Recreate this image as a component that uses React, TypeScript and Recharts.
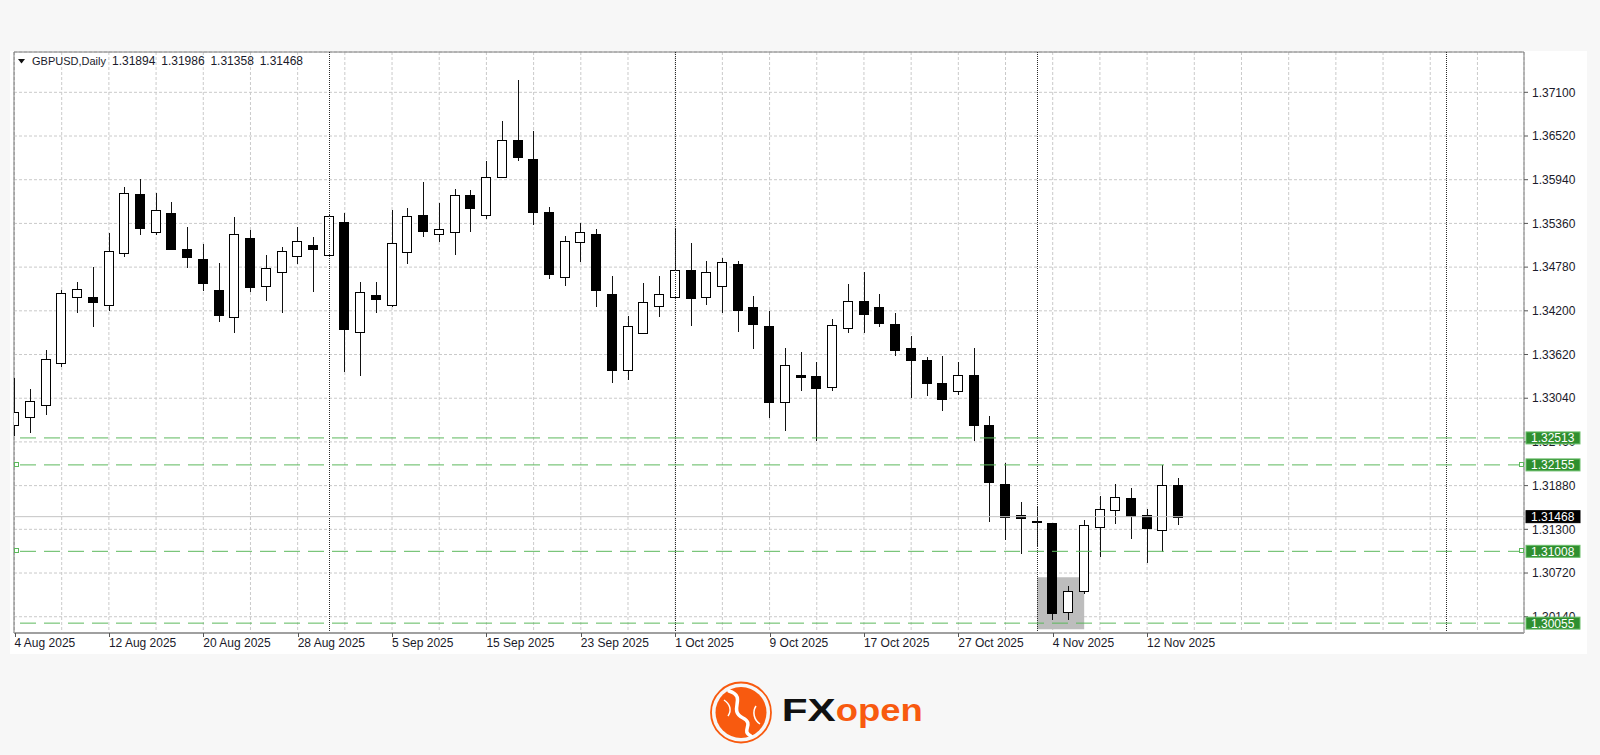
import React from "react";
import {
  ComposedChart,
  Bar,
  XAxis,
  YAxis,
  CartesianGrid,
  ReferenceLine,
  ReferenceArea,
} from "recharts";

// GBPUSD daily, 4 Aug 2025 .. 14 Nov 2025 (one entry per trading day)
const opens = [
  1.32684, 1.32794, 1.32946, 1.33511, 1.34387, 1.34379, 1.34281, 1.34963, 1.3575, 1.3525,
  1.35502, 1.35016, 1.34883, 1.3448, 1.34122, 1.35162, 1.34529, 1.34715, 1.34931, 1.35069,
  1.34936, 1.35382, 1.33918, 1.34414, 1.34281, 1.3498, 1.35471, 1.35219, 1.35242, 1.35741,
  1.35471, 1.35976, 1.36467, 1.36219, 1.35515, 1.34648, 1.35109, 1.35219, 1.34427, 1.33418,
  1.33901, 1.34268, 1.34387, 1.34741, 1.34379, 1.34529, 1.34817, 1.34254, 1.33998, 1.32989,
  1.33348, 1.33334, 1.33192, 1.33968, 1.34334, 1.34246, 1.34021, 1.33702, 1.33547, 1.33238,
  1.33131, 1.33348, 1.32684, 1.31897, 1.3149, 1.3141, 1.31379, 1.30206, 1.30485, 1.31334,
  1.31556, 1.31711, 1.31486, 1.31286, 1.31894,
];
const highs = [
  1.33304, 1.33158, 1.3368, 1.34476, 1.34582, 1.34777, 1.35236, 1.35847, 1.35945, 1.35759,
  1.35644, 1.35316, 1.35087, 1.3483, 1.35449, 1.35272, 1.3494, 1.35047, 1.35308, 1.35175,
  1.35485, 1.35494, 1.34578, 1.34586, 1.35538, 1.3556, 1.35905, 1.35635, 1.35816, 1.35799,
  1.36192, 1.36723, 1.37263, 1.3659, 1.35582, 1.35193, 1.35361, 1.35282, 1.34662, 1.34135,
  1.34569, 1.34662, 1.35295, 1.35096, 1.34865, 1.34901, 1.34865, 1.34392, 1.34197, 1.33702,
  1.33649, 1.33524, 1.34087, 1.34552, 1.34715, 1.34427, 1.34167, 1.33869, 1.33591, 1.336,
  1.33524, 1.33702, 1.32804, 1.32184, 1.31658, 1.31613, 1.31387, 1.30547, 1.31423, 1.31742,
  1.31901, 1.31844, 1.31565, 1.32153, 1.31986,
];
const lows = [
  1.32538, 1.32582, 1.32813, 1.3345, 1.34175, 1.33981, 1.34201, 1.34918, 1.35206, 1.35206,
  1.35016, 1.34764, 1.34467, 1.34055, 1.33901, 1.34453, 1.34334, 1.34167, 1.34825, 1.34453,
  1.34918, 1.33392, 1.33334, 1.34167, 1.34254, 1.34817, 1.35183, 1.35117, 1.3494, 1.35242,
  1.35418, 1.35967, 1.36188, 1.35339, 1.34622, 1.34529, 1.34852, 1.34254, 1.33238, 1.33281,
  1.3389, 1.34122, 1.3437, 1.33994, 1.34281, 1.34167, 1.33914, 1.33697, 1.32781, 1.32604,
  1.33139, 1.32476, 1.33139, 1.33909, 1.33901, 1.33989, 1.336, 1.33046, 1.33073, 1.32874,
  1.33082, 1.32472, 1.31401, 1.31158, 1.30968, 1.31069, 1.30096, 1.30096, 1.30441, 1.30936,
  1.3137, 1.31167, 1.30848, 1.31002, 1.31358,
];
const closes = [
  1.32861, 1.33003, 1.3356, 1.3444, 1.34485, 1.34317, 1.3499, 1.35767, 1.35303, 1.35538,
  1.35024, 1.3491, 1.34565, 1.3414, 1.35219, 1.34512, 1.34772, 1.3499, 1.35126, 1.35024,
  1.35458, 1.33962, 1.34445, 1.34352, 1.35096, 1.35458, 1.35263, 1.3529, 1.35741, 1.3556,
  1.3598, 1.36467, 1.36245, 1.35507, 1.34684, 1.3513, 1.3525, 1.34472, 1.3341, 1.33994,
  1.34317, 1.34427, 1.34745, 1.34374, 1.34719, 1.34848, 1.3421, 1.34021, 1.32989, 1.33476,
  1.33321, 1.33179, 1.34007, 1.34334, 1.34157, 1.34042, 1.33676, 1.33547, 1.33238, 1.33033,
  1.33348, 1.32684, 1.31924, 1.31459, 1.31454, 1.31402, 1.30193, 1.30485, 1.31353, 1.31569,
  1.31724, 1.3148, 1.31321, 1.31888, 1.31468,
];

// one date label every 6 bars, starting at bar 0
const xLabels = [
  "4 Aug 2025", "12 Aug 2025", "20 Aug 2025", "28 Aug 2025", "5 Sep 2025", "15 Sep 2025",
  "23 Sep 2025", "1 Oct 2025", "9 Oct 2025", "17 Oct 2025", "27 Oct 2025", "4 Nov 2025",
  "12 Nov 2025",
];
const yTicks = [
  1.3014, 1.3072, 1.313, 1.3188, 1.3246, 1.3304, 1.3362, 1.342, 1.3478, 1.3536, 1.3594,
  1.3652, 1.371,
];
const levels = [1.32513, 1.32155, 1.31008, 1.30055];
const markedLevels = [1.32155, 1.31008];
const bidPrice = 1.31468;
const monthStarts = [20, 42, 65, 91];
const zoneBars = [65, 68];
const zonePrices = [1.29975, 1.30663];

const Y_MIN = 1.29924;
const Y_MAX = 1.37635;
const X_MIN = -0.032;
const X_MAX = 95.96;

const rows = opens.map((o, i) => ({
  i,
  open: o,
  high: highs[i],
  low: lows[i],
  close: closes[i],
}));
const gridTicks = Array.from({ length: 32 }, (_, k) => k * 3);

const FONT = "'Liberation Sans', Arial, sans-serif";
const GREEN = "#5cb85c";
const ORANGE = "#f85a0f";
const CHART_W = 1600;
const CHART_H = 700;
const MARGIN = { top: 52, right: 16, bottom: 45, left: 14 };

function Candle(props: any) {
  const { x, y, width, height, payload } = props;
  if (x == null || !payload) return null;
  const { open, close, high, low } = payload;
  const n = Math.floor(x + width / 2);
  const k = height / (high - low || 1);
  const py = (v: number) => y + (high - v) * k;
  const up = close >= open;
  const bt = Math.round(py(Math.max(open, close))) + 0.5;
  const bb = Math.round(py(Math.min(open, close))) + 0.5;
  return (
    <g>
      <line x1={n + 0.5} x2={n + 0.5} y1={Math.round(y)} y2={Math.round(y + height)} stroke="#111" />
      {bb - bt < 1 ? (
        <line x1={n - 5} x2={n + 5} y1={bt} y2={bt} stroke="#000" />
      ) : (
        <rect x={n - 4.5} y={bt} width={9} height={bb - bt} fill={up ? "#fff" : "#000"} stroke="#000" />
      )}
    </g>
  );
}

function XTick(props: any) {
  const { x, y, payload } = props;
  const v = payload.value;
  if (v % 6 !== 0) return null;
  const label = xLabels[v / 6];
  if (!label) return null;
  return (
    <g>
      <line x1={Math.round(x) + 0.5} x2={Math.round(x) + 0.5} y1={y - 4} y2={y} stroke="#555" />
      <text x={x} y={y + 10} fill="#1a1a2a" fontSize={12} fontFamily={FONT}>
        {label}
      </text>
    </g>
  );
}

// crisp dotted month separator
function Separator(props: any) {
  const { x1, y1, y2 } = props;
  if (x1 == null) return null;
  const sx = Math.round(x1) + 0.5;
  return <line x1={sx} x2={sx} y1={y1} y2={y2} stroke="#2a2a2a" strokeDasharray="1 1" />;
}

function PriceTag(props: any) {
  const { viewBox, text, fill, stroke, marks } = props;
  if (!viewBox) return null;
  const left = viewBox.x;
  const right = viewBox.x + viewBox.width;
  const cy = viewBox.y;
  return (
    <g>
      {marks && (
        <>
          <rect x={left + 0.5} y={Math.round(cy) - 2.5} width={4} height={4} fill="#fff" stroke={GREEN} />
          <rect x={right - 4.5} y={Math.round(cy) - 2.5} width={4} height={4} fill="#fff" stroke={GREEN} />
        </>
      )}
      <rect x={right + 2} y={cy - 6} width={54} height={12} fill={fill} stroke={stroke} />
      <text x={right + 7} y={cy + 4.5} fill="#fff" fontSize={12} fontFamily={FONT}>
        {text}
      </text>
    </g>
  );
}

export default function App() {
  return (
    <div
      style={{
        position: "absolute",
        left: 0,
        top: 0,
        width: 1600,
        height: 755,
        background: "#f7f7f7",
        overflow: "hidden",
        fontFamily: FONT,
      }}
    >
      <div style={{ position: "absolute", left: 10, top: 51, width: 1577, height: 603, background: "#fff" }} />

      {/* main chart: grid, axes, candles */}
      <div style={{ position: "absolute", left: 0, top: 0 }}>
        <ComposedChart width={CHART_W} height={CHART_H} data={rows} margin={MARGIN}>
          <CartesianGrid stroke="#cacaca" strokeDasharray="3 2" />
          <XAxis
            dataKey="i"
            type="number"
            domain={[X_MIN, X_MAX]}
            ticks={gridTicks}
            interval={0}
            allowDataOverflow
            height={22}
            tickSize={4}
            tickMargin={0}
            tickLine={false}
            axisLine={{ stroke: "#a0a0a0", strokeWidth: 2 }}
            tick={<XTick />}
          />
          <YAxis
            orientation="right"
            type="number"
            domain={[Y_MIN, Y_MAX]}
            ticks={yTicks}
            interval={0}
            allowDataOverflow
            width={60}
            tickSize={4}
            tickMargin={4}
            axisLine={false}
            tickLine={{ stroke: "#555" }}
            tick={{ fill: "#1a1a2a", fontSize: 12, fontFamily: FONT, textAnchor: "start" }}
            tickFormatter={(v: number) => v.toFixed(5)}
          />
          <ReferenceArea
            x1={X_MIN}
            x2={X_MAX}
            y1={Y_MIN}
            y2={Y_MAX}
            fill="none"
            stroke="#7d7d7d"
            ifOverflow="visible"
          />
          <ReferenceArea
            x1={zoneBars[0]}
            x2={zoneBars[1]}
            y1={zonePrices[0]}
            y2={zonePrices[1]}
            fill="#bdbdbd"
            fillOpacity={1}
            stroke="none"
          />
          {monthStarts.map((m) => (
            <ReferenceLine key={m} x={m} stroke="#000" shape={(p: any) => <Separator {...p} />} />
          ))}
          <Bar
            dataKey={(d: any) => [d.low, d.high]}
            barSize={10}
            shape={<Candle />}
            isAnimationActive={false}
          />
        </ComposedChart>
      </div>

      {/* overlay chart: price levels and their tags, drawn above the axis labels */}
      <div style={{ position: "absolute", left: 0, top: 0 }}>
        <ComposedChart width={CHART_W} height={CHART_H} data={rows} margin={MARGIN}>
          <XAxis
            dataKey="i"
            type="number"
            domain={[X_MIN, X_MAX]}
            allowDataOverflow
            height={22}
            tick={false}
            tickLine={false}
            axisLine={false}
          />
          <YAxis
            orientation="right"
            type="number"
            domain={[Y_MIN, Y_MAX]}
            allowDataOverflow
            width={60}
            tick={false}
            tickLine={false}
            axisLine={false}
          />
          <ReferenceLine
            y={bidPrice}
            stroke="#c4c4c4"
            label={(p: any) => <PriceTag {...p} text={bidPrice.toFixed(5)} fill="#000" stroke="#000" />}
          />
          {levels.map((lv) => (
            <ReferenceLine
              key={lv}
              y={lv}
              stroke={GREEN}
              strokeDasharray="16 8"
              label={(p: any) => (
                <PriceTag
                  {...p}
                  text={lv.toFixed(5)}
                  fill="#2f8f2f"
                  stroke="#6cbf6c"
                  marks={markedLevels.includes(lv)}
                />
              )}
            />
          ))}
        </ComposedChart>
      </div>

      <svg style={{ position: "absolute", left: 0, top: 0 }} width={400} height={70}>
        <polygon points="18,59 25,59 21.5,63.5" fill="#111" />
        <text x={32} y={65} fontSize={11} fontFamily={FONT} fill="#1a1a2a">
          GBPUSD,Daily
        </text>
        <text x={112} y={65} fontSize={12} fontFamily={FONT} fill="#1a1a2a" wordSpacing={2.5}>
          1.31894 1.31986 1.31358 1.31468
        </text>
      </svg>

      <svg style={{ position: "absolute", left: 700, top: 670 }} width={240} height={80}>
        <circle cx={41} cy={42.5} r={30} fill="none" stroke={ORANGE} strokeWidth={1.8} />
        <circle cx={41} cy={42.5} r={25.5} fill={ORANGE} />
        <path
          d="M29 21 C 48 27, 27 40, 43 48 C 55 54, 40 61, 51 66"
          fill="none"
          stroke="#fff"
          strokeWidth={3.5}
          strokeLinecap="round"
        />
        <path d="M24 30 C 30 34, 32 40, 28 46" fill="none" stroke="#fff" strokeWidth={1.5} />
        <path d="M56 36 C 52 42, 54 50, 60 54" fill="none" stroke="#fff" strokeWidth={1.5} />
        <text
          x={81.7}
          y={51}
          fontSize={31}
          fontWeight={900}
          fontFamily={FONT}
          fill="#111"
          textLength={54}
          lengthAdjust="spacingAndGlyphs"
        >
          FX
        </text>
        <text
          x={135.7}
          y={51}
          fontSize={31}
          fontWeight={900}
          fontFamily={FONT}
          fill={ORANGE}
          textLength={87}
          lengthAdjust="spacingAndGlyphs"
        >
          open
        </text>
      </svg>
    </div>
  );
}
